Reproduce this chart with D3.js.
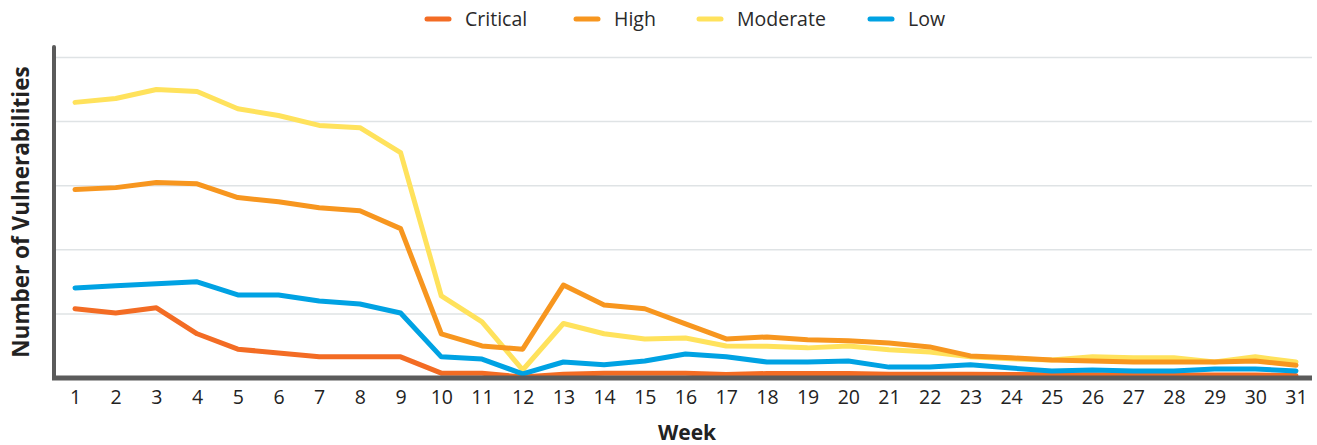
<!DOCTYPE html>
<html>
<head>
<meta charset="utf-8">
<script src="https://cdn.jsdelivr.net/npm/d3@7"></script>
<style>
  html, body { margin: 0; padding: 0; background: #fff; }
  svg { display: block; font-family: "Open Sans", sans-serif; }
</style>
</head>
<body>
<div class="canvas"></div>
<script>
const weeks = d3.range(1, 32);

const critical = [21.6, 20.3, 21.9, 13.8, 9, 7.8, 6.6, 6.6, 6.6, 1.5, 1.5, 0.3, 1.2, 1.5, 1.5, 1.5, 1.1, 1.4, 1.4, 1.4, 1.2, 1.2, 1.2, 1.1, 1, 1, 0.9, 0.9, 0.9, 0.9, 0.8];
const high = [58.8, 59.4, 61, 60.6, 56.3, 55, 53.1, 52.2, 46.6, 13.8, 10, 9, 29, 22.8, 21.6, 16.9, 12.2, 12.8, 11.9, 11.6, 10.9, 9.7, 6.9, 6.3, 5.6, 5.3, 5, 5, 5, 5.3, 4];
const moderate = [86, 87.2, 90, 89.4, 84, 81.9, 78.8, 78.1, 70.3, 25.6, 17.5, 2.5, 17, 13.8, 12.2, 12.5, 10, 9.9, 9.4, 10, 8.8, 8.1, 6.6, 6, 5.6, 6.6, 6.3, 6.3, 5, 6.6, 5];
const low = [28.1, 28.8, 29.4, 30, 25.9, 25.9, 24, 23.1, 20.3, 6.6, 5.9, 1.3, 5, 4.1, 5.3, 7.5, 6.6, 5, 5, 5.3, 3.4, 3.4, 4.1, 3.1, 2.2, 2.5, 2.2, 2.2, 2.8, 2.8, 2.2];

const series = [
  { name: "Critical", values: critical, color: "#f36c24" },
  { name: "High", values: high, color: "#f7961f" },
  { name: "Moderate", values: moderate, color: "#ffe25c" },
  { name: "Low", values: low, color: "#00a2e3" }
];
// drawing order (top-most last)
const drawOrder = ["Moderate", "High", "Critical", "Low"];
const gridValues = [20, 40, 60, 80, 100];

const w = 1317;
const h = 445;

const svg = d3.select(".canvas")
  .append("svg")
  .attr("width", w)
  .attr("height", h);

// scales
const x = d3.scalePoint()
  .domain(weeks)
  .range([75, 1296]);

const y = d3.scaleLinear()
  .domain([0, 100])
  .range([378, 57.5]);

// gridlines
svg.append("g")
  .selectAll("line")
  .data(gridValues)
  .enter()
  .append("line")
  .attr("x1", 56)
  .attr("x2", 1312)
  .attr("y1", d => y(d))
  .attr("y2", d => y(d))
  .attr("stroke", "#dfe3e5")
  .attr("stroke-width", 1.5);

// x axis (tick labels only)
const xAxis = d3.axisBottom(x).tickSize(0).tickPadding(12);
const xAxisGroup = svg.append("g")
  .attr("transform", `translate(0, ${y(0)})`)
  .call(xAxis);
xAxisGroup.select(".domain").remove();
xAxisGroup.selectAll("text")
  .attr("font-size", 19.5)
  .attr("font-family", "Open Sans, sans-serif")
  .attr("fill", "#222");

// lines
const line = d3.line()
  .x((d, i) => x(weeks[i]))
  .y(d => y(d));

svg.append("g")
  .selectAll("path")
  .data(drawOrder.map(n => series.find(s => s.name === n)))
  .enter()
  .append("path")
  .attr("d", d => line(d.values))
  .attr("fill", "none")
  .attr("stroke", d => d.color)
  .attr("stroke-width", 5)
  .attr("stroke-linejoin", "round")
  .attr("stroke-linecap", "round");

// axis frame
svg.append("line")
  .attr("x1", 52).attr("x2", 1312)
  .attr("y1", y(0)).attr("y2", y(0))
  .attr("stroke", "#5b5b5b")
  .attr("stroke-width", 5);

svg.append("line")
  .attr("x1", 54).attr("x2", 54)
  .attr("y1", 47).attr("y2", y(0))
  .attr("stroke", "#5b5b5b")
  .attr("stroke-width", 4)
  .attr("stroke-linecap", "round");

// axis titles
svg.append("text")
  .attr("x", 687)
  .attr("y", 440)
  .attr("text-anchor", "middle")
  .attr("font-size", 21)
  .attr("font-weight", "bold")
  .attr("fill", "#222")
  .text("Week");

svg.append("text")
  .attr("transform", "translate(29, 212) rotate(-90)")
  .attr("text-anchor", "middle")
  .attr("font-size", 22.5)
  .attr("font-weight", "bold")
  .attr("fill", "#222")
  .text("Number of Vulnerabilities");

// legend
const legendX = [425, 574, 697, 868];
const legend = svg.append("g")
  .selectAll("g")
  .data(series)
  .enter()
  .append("g")
  .attr("transform", (d, i) => `translate(${legendX[i]}, 19)`);

legend.append("line")
  .attr("x1", 2).attr("x2", 24)
  .attr("y1", 0).attr("y2", 0)
  .attr("stroke", d => d.color)
  .attr("stroke-width", 5)
  .attr("stroke-linecap", "round");

legend.append("text")
  .attr("x", 40)
  .attr("y", 7)
  .attr("font-size", 19.5)
  .attr("fill", "#2a2a2a")
  .text(d => d.name);
</script>
</body>
</html>
